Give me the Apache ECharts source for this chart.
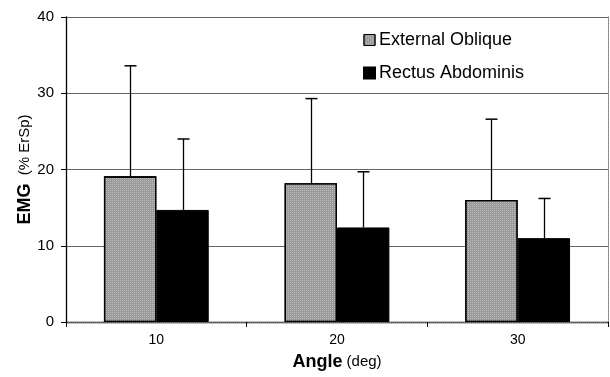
<!DOCTYPE html>
<html><head><meta charset="utf-8">
<script src="https://cdn.jsdelivr.net/npm/echarts@6/dist/echarts.min.js"></script>
<style>html,body{margin:0;padding:0;background:#fff}#c{width:610px;height:377px}</style>
</head><body><div id="c"></div>
<script>
const categories = ['10', '20', '30'];
const seriesNames = ['External Oblique', 'Rectus Abdominis'];
const externalOblique = [19.1, 18.2, 16.0];
const externalObliqueSD = [14.5, 11.1, 10.6];
const rectusAbdominis = [14.7, 12.4, 11.0];
const rectusAbdominisSD = [9.3, 7.3, 5.2];
const yTicks = [0, 10, 20, 30, 40];

const GAP = 0.42;
const FONT = 'Liberation Sans, Arial, sans-serif';

function errorSeries(values, sds, which) {
  return {
    type: 'custom',
    name: seriesNames[which] + ' SD',
    silent: true,
    z: 5,
    data: values.map((v, i) => [i, v, v + sds[i]]),
    renderItem: function (params, api) {
      const band = api.size([1, 0])[0];
      const bw = band * (1 - GAP) / 2;
      const off = (which === 0 ? -1 : 1) * bw / 2;
      const p0 = api.coord([api.value(0), api.value(1)]);
      const p1 = api.coord([api.value(0), api.value(2)]);
      const x = Math.round(p0[0] + off) + 0.5;
      const cap = 6;
      return {
        type: 'group',
        children: [
          { type: 'line', shape: { x1: x, y1: p0[1], x2: x, y2: p1[1] }, style: { stroke: '#000', lineWidth: 1.3 } },
          { type: 'line', shape: { x1: x - cap, y1: p1[1], x2: x + cap, y2: p1[1] }, style: { stroke: '#000', lineWidth: 1.5 } }
        ]
      };
    }
  };
}

const eoDecal = {
  symbol: 'rect',
  symbolSize: 1,
  dashArrayX: [1, 1],
  dashArrayY: [1, 1],
  color: 'rgba(255,255,255,0.35)'
};

const chart = echarts.init(document.getElementById('c'), null, { renderer: 'canvas' });
chart.setOption({
  animation: false,
  backgroundColor: '#fff',
  textStyle: { fontFamily: FONT },
  grid: { left: 66, right: 2, top: 17, bottom: 55, outerBoundsMode: 'none', containLabel: false },
  legend: {
    orient: 'vertical',
    left: 358, top: 26,
    icon: 'rect',
    itemWidth: 11, itemHeight: 11, itemGap: 15,
    data: [
      { name: seriesNames[0], itemStyle: { color: '#999', borderColor: '#000', borderWidth: 1 } },
      { name: seriesNames[1], itemStyle: { color: '#000' } }
    ],
    textStyle: { fontSize: 18, color: '#000', fontFamily: FONT, padding: [0, 0, 0, -1] }
  },
  xAxis: [{
    type: 'category',
    data: categories,
    position: 'bottom',
    axisLine: { lineStyle: { color: '#000', width: 1.3 } },
    axisTick: { show: true, length: 5, lineStyle: { color: '#000' } },
    axisLabel: { fontSize: 14, color: '#000', margin: 11, fontFamily: FONT },
    name: '{b|Angle} {n|(deg)}',
    nameLocation: 'middle',
    nameGap: 31,
    nameTextStyle: {
      fontSize: 15,
      rich: {
        b: { fontSize: 18, fontWeight: 'bold', color: '#000', fontFamily: FONT },
        n: { fontSize: 15, color: '#000', fontFamily: FONT }
      }
    }
  }, {
    type: 'category',
    data: categories,
    position: 'top',
    axisLine: { lineStyle: { color: '#777', type: [1, 1], width: 1 } },
    axisTick: { show: false },
    axisLabel: { show: false }
  }],
  yAxis: [{
    type: 'value',
    min: 0, max: 40, interval: 10,
    axisLine: { show: true, lineStyle: { color: '#000', width: 1.3 } },
    axisTick: { show: true, length: 5, lineStyle: { color: '#000' } },
    axisLabel: { fontSize: 15, color: '#000', margin: 12, fontFamily: FONT,
      formatter: v => yTicks.includes(v) ? String(v) : '' },
    splitLine: { show: true, lineStyle: { color: '#666', width: 1 } },
    name: '{b|EMG}  {n|(% ErSp)}',
    nameLocation: 'middle',
    nameGap: 32,
    nameMoveOverlap: false,
    nameTextStyle: {
      fontSize: 15,
      rich: {
        b: { fontSize: 18, fontWeight: 'bold', color: '#000', fontFamily: FONT },
        n: { fontSize: 15, color: '#000', fontFamily: FONT }
      }
    }
  }, {
    type: 'value',
    position: 'right',
    min: 0, max: 40, interval: 10,
    axisLine: { show: true, lineStyle: { color: '#777', type: [1, 1], width: 1 } },
    axisTick: { show: false },
    axisLabel: { show: false },
    splitLine: { show: false }
  }],
  series: [{
    type: 'bar',
    name: seriesNames[0],
    data: externalOblique,
    barGap: '0%',
    barCategoryGap: (GAP * 100) + '%',
    itemStyle: { color: '#9a9a9a', borderColor: '#000', borderWidth: 1.3, decal: eoDecal },
    z: 3
  }, {
    type: 'bar',
    name: seriesNames[1],
    data: rectusAbdominis,
    barGap: '0%',
    barCategoryGap: (GAP * 100) + '%',
    itemStyle: { color: '#000', borderColor: '#000', borderWidth: 1 },
    z: 3
  },
  errorSeries(externalOblique, externalObliqueSD, 0),
  errorSeries(rectusAbdominis, rectusAbdominisSD, 1)
  ]
});
</script>
</body></html>
